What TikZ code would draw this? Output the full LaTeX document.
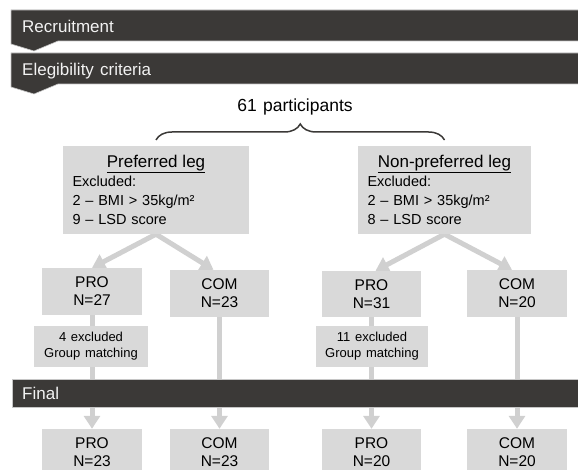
\documentclass[tikz,border=0pt]{standalone}
\usepackage{fontspec}
\setmainfont[WordSpace=1.3]{Liberation Sans}
\usetikzlibrary{arrows.meta,backgrounds,decorations.pathreplacing}
\definecolor{flowcolor0001}{RGB}{59,57,55}
\definecolor{flowcolor0002}{RGB}{217,217,217}
\definecolor{flowcolor0003}{RGB}{208,208,208}
\definecolor{flowcolor0004}{RGB}{242,242,242}

\begin{document}
\begin{tikzpicture}[yscale=-1
,boxstyle/.style={fill=flowcolor0002,inner sep=0pt,align=center,font=\fontsize{15.5}{18}\selectfont}
,infostyle/.style={fill=flowcolor0002,inner xsep=9.5pt,inner ysep=0pt,text width=#1,align=left,minimum height=88pt,font=\fontsize{14.5}{19}\selectfont}
,linkstyle/.style={color=flowcolor0003,line width=5pt,-{Triangle[width=16pt,length=13pt]}}
,barstyle/.style={fill=flowcolor0001,draw=gray!45,line width=0.6pt}
,barlabel/.style={anchor=base west,inner xsep=0pt,color=flowcolor0004,font=\fontsize{17}{20}\selectfont}
,bracestyle/.style={color=flowcolor0001,line width=1.5pt,decorate,decoration={brace,amplitude=16pt}}
]
\useasboundingbox (0pt,0pt) rectangle (578pt,470pt);
\clip (0pt,0pt) rectangle (578pt,470pt);
% phase banners
\draw[barstyle] (11pt,10pt) -- (580pt,10pt) -- (580pt,41pt) -- (58pt,41pt) -- (34pt,51pt) -- (11pt,44pt) -- cycle;
\node[barlabel] (recruit) at (22pt,33pt) {Recruitment};
\draw[barstyle] (11pt,53pt) -- (580pt,53pt) -- (580pt,84pt) -- (58pt,84pt) -- (34pt,94pt) -- (11pt,87pt) -- cycle;
\node[barlabel] (elig) at (22pt,76pt) {Elegibility criteria};
\node[anchor=base,font=\fontsize{17.5}{20}\selectfont] (total) at (295pt,112pt) {61 participants};
% legs
\node[infostyle=167pt] (prefleg) at (156pt,190pt) {\makebox[\hsize]{\fontsize{17}{19}\selectfont\underline{Preferred leg}}\\Excluded:\\2 – BMI > 35kg/m²\\9 – LSD score};
\node[infostyle=154pt] (nprefleg) at (444.5pt,190pt) {\makebox[\hsize]{\fontsize{17}{19}\selectfont\underline{Non-preferred leg}}\\Excluded:\\2 – BMI > 35kg/m²\\8 – LSD score};
\coordinate (braceL) at (156pt,140pt);
\coordinate (braceR) at (444.5pt,140pt);
\draw[bracestyle] (braceL) -- (braceR);
% groups
\node[boxstyle,minimum width=100pt,minimum height=47pt] (proPref) at (92pt,291.5pt) {PRO\\N=27};
\node[boxstyle,minimum width=99pt,minimum height=47pt] (comPref) at (219.5pt,293.5pt) {COM\\N=23};
\node[boxstyle,minimum width=99pt,minimum height=46pt] (proNon) at (371.5pt,294pt) {PRO\\N=31};
\node[boxstyle,minimum width=100pt,minimum height=47pt] (comNon) at (517pt,293.5pt) {COM\\N=20};
\node[boxstyle,font=\fontsize{13}{16}\selectfont,minimum width=114pt,minimum height=41pt] (exPref) at (91pt,346.5pt) {4 excluded\\Group matching};
\node[boxstyle,font=\fontsize{13}{16}\selectfont,minimum width=112pt,minimum height=41pt] (exNon) at (372pt,346.5pt) {11 excluded\\Group matching};
\node[boxstyle,minimum width=100pt,minimum height=47pt] (finProPref) at (92pt,452.5pt) {PRO\\N=23};
\node[boxstyle,minimum width=99pt,minimum height=47pt] (finComPref) at (219.5pt,452.5pt) {COM\\N=23};
\node[boxstyle,minimum width=99pt,minimum height=47pt] (finProNon) at (371.5pt,452.5pt) {PRO\\N=20};
\node[boxstyle,minimum width=100pt,minimum height=47pt] (finComNon) at (517pt,452.5pt) {COM\\N=20};
\begin{scope}[on background layer]
\draw[linkstyle] (prefleg.south) -- (proPref.north);
\draw[linkstyle] (prefleg.south) -- ([xshift=-6pt]comPref.north);
\draw[linkstyle] (nprefleg.south) -- ([xshift=4pt]proNon.north);
\draw[linkstyle] (nprefleg.south) -- ([xshift=-5pt]comNon.north);
\draw[linkstyle] (proPref.south) -- (finProPref.north);
\draw[linkstyle] (comPref.south) -- (finComPref.north);
\draw[linkstyle] (proNon.south) -- (finProNon.north);
\draw[linkstyle] (comNon.south) -- (finComNon.north);
\end{scope}
% final banner
\draw[barstyle] (12pt,379pt) rectangle (580pt,407pt);
\node[barlabel] (final) at (22pt,399pt) {Final};
\end{tikzpicture}
\end{document}
